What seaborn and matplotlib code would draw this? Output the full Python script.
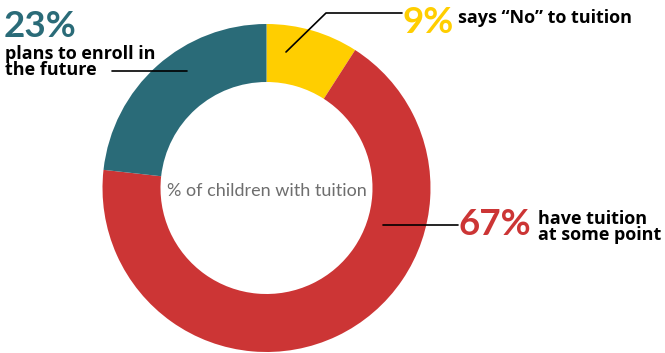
import matplotlib
matplotlib.use("Agg")
import matplotlib.pyplot as plt
import seaborn as sns

categories = ['says “No” to tuition', "have tuition\nat some point", "plans to enroll in\nthe future"]
values = [9, 67, 23]
pct_labels = ["9%", "67%", "23%"]
colors = ["#FFCE00", "#CC3535", "#2A6B78"]
center_title = "% of children with tuition"

sns.set_theme(style="white")
W, H = 665, 353
fig = plt.figure(figsize=(W / 100, H / 100), dpi=100)
ax = fig.add_axes([0, 0, 1, 1])

cx, cy = 266.5, H - 188
ax.pie(values, colors=colors, startangle=90, counterclock=False,
       center=(cx, cy), radius=164, frame=True,
       wedgeprops=dict(width=58, linewidth=0))
ax.set_xlim(0, W)
ax.set_ylim(0, H)
ax.set_aspect("equal")
ax.axis("off")

def Y(y):
    return H - y

big = dict(fontfamily="Lato", fontweight="bold", fontsize=26.5)
small = dict(fontfamily="Open Sans", fontweight="bold", fontsize=13, color="black",
             linespacing=0.88)

# 23% label
ax.text(4, Y(37), pct_labels[2], color=colors[2], ha="left", va="baseline", **big)
ax.text(5, Y(75), categories[2], ha="left", va="baseline", **small)
ax.plot([112, 187], [Y(71), Y(71)], color="black", lw=1.2)

# 9% label
ax.plot([286, 326, 402], [Y(52), Y(13), Y(13)], color="black", lw=1.2)
ax.text(402, Y(33), pct_labels[0], color=colors[0], ha="left", va="baseline", **big)
ax.text(458, Y(23), categories[0], ha="left", va="baseline", **small)

# 67% label
ax.plot([383, 458], [Y(225), Y(225)], color="black", lw=1.2)
ax.text(459, Y(235), pct_labels[1], color=colors[1], ha="left", va="baseline", **big)
ax.text(538, Y(240), categories[1], ha="left", va="baseline", **small)

# center text
ax.text(cx, Y(196), center_title, ha="center", va="baseline", color="#6E6E6E",
        fontfamily="Lato", fontsize=13)

fig.savefig("out.png", dpi=100)
